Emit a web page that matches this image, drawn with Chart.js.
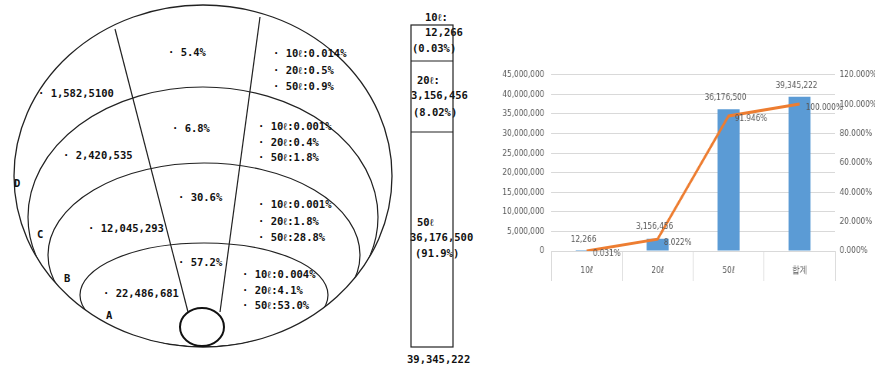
<!DOCTYPE html>
<html>
<head>
<meta charset="utf-8">
<script src="https://cdn.jsdelivr.net/npm/chart.js@4.4.1/dist/chart.umd.min.js"></script>
<style>
  body { margin: 0; background: #fff; }
  #wrap { position: relative; width: 875px; height: 370px; overflow: hidden; }
  #diagram { position: absolute; left: 0; top: 0; }
  /* drawing buffer is wider than the box, so the chart text comes out narrow like the original */
  #bagChart { position: absolute; left: 495px; top: 60px; }
</style>
</head>
<body>
<div id="wrap">
  <svg id="diagram" width="480" height="370"></svg>
  <canvas id="bagChart" width="494" height="225" style="width:380px;height:225px"></canvas>
</div>
<script>
// chart data (bag size -> count, cumulative share)
const categories = ['10ℓ', '20ℓ', '50ℓ', '합계'];
const bagCounts = [12266, 3156456, 36176500, 39345222];
const cumulativeShare = [0.00031, 0.08022, 0.91946, 1.0];

// diagram data, inner ring first
const regions = ['A', 'B', 'C', 'D'];
const regionTotals = ['22,486,681', '12,045,293', '2,420,535', '1,582,5100'];
const regionShares = ['57.2%', '30.6%', '6.8%', '5.4%'];
const share10 = ['0.004%', '0.001%', '0.001%', '0.014%'];
const share20 = ['4.1%', '1.8%', '0.4%', '0.5%'];
const share50 = ['53.0%', '28.8%', '1.8%', '0.9%'];
const boxShares = ['(0.03%)', '(8.02%)', '(91.9%)'];

// ---------- left schematic ----------
const svgNS = 'http://www.w3.org/2000/svg';
const svg = document.getElementById('diagram');

function el(name, attrs, parent) {
  const e = document.createElementNS(svgNS, name);
  for (const k in attrs) e.setAttribute(k, attrs[k]);
  (parent || svg).appendChild(e);
  return e;
}

const outer = { cx: 203, cy: 176, rx: 189, ry: 171 };
const rings = [
  { cx: 204, cy: 295, rx: 124, ry: 52 },
  { cx: 204, cy: 255, rx: 156, ry: 92 },
  { cx: 203, cy: 217, rx: 175, ry: 130 }
];

const defs = el('defs', {});
const clip = el('clipPath', { id: 'outerClip' }, defs);
el('ellipse', outer, clip);

const g = el('g', { 'clip-path': 'url(#outerClip)', fill: 'none', stroke: '#222', 'stroke-width': 1.2 });
rings.forEach(r => el('ellipse', r, g));
el('line', { x1: 115, y1: 29, x2: 188, y2: 312 }, g);
el('line', { x1: 260, y1: 17, x2: 220, y2: 312 }, g);
el('ellipse', Object.assign({ fill: 'none', stroke: '#222', 'stroke-width': 1.3 }, outer));
el('ellipse', { cx: 202, cy: 327, rx: 22, ry: 19, fill: '#fff', stroke: '#111', 'stroke-width': 2 });

const regionLayout = [
  { total: [103, 293], share: [178, 262], bags: [242, 274, 15.5], letter: [106, 315] },
  { total: [88, 228], share: [178, 197], bags: [258, 204, 16.5], letter: [64, 278] },
  { total: [63, 155], share: [172, 128], bags: [258, 126, 15.5], letter: [37, 234] },
  { total: [38, 93], share: [168, 52], bags: [273, 53, 16.5], letter: [14, 183] }
];

const texts = el('g', { 'font-family': 'DejaVu Sans Mono, monospace', 'font-weight': 'bold', 'font-size': '10.5px', fill: '#111' });
function put(s, x, y) {
  const t = document.createElementNS(svgNS, 'text');
  t.setAttribute('x', x); t.setAttribute('y', y + 4);
  t.textContent = s;
  texts.appendChild(t);
}
regions.forEach((r, i) => {
  const L = regionLayout[i];
  put('· ' + regionTotals[i], L.total[0], L.total[1]);
  put('· ' + regionShares[i], L.share[0], L.share[1]);
  put('· ' + categories[0] + ':' + share10[i], L.bags[0], L.bags[1]);
  put('· ' + categories[1] + ':' + share20[i], L.bags[0], L.bags[1] + L.bags[2]);
  put('· ' + categories[2] + ':' + share50[i], L.bags[0], L.bags[1] + 2 * L.bags[2]);
  put(r, L.letter[0], L.letter[1]);
});

// stacked box (schematic, not to scale)
el('rect', { x: 411, y: 25, width: 42, height: 322, fill: 'none', stroke: '#222', 'stroke-width': 1.2 });
el('line', { x1: 411, y1: 61, x2: 453, y2: 61, stroke: '#222', 'stroke-width': 1.2 });
el('line', { x1: 411, y1: 132, x2: 453, y2: 132, stroke: '#222', 'stroke-width': 1.2 });
const boxLayout = [
  [[425, 17], [425, 32], [412, 48]],
  [[417, 80], [411, 95], [413, 112]],
  [[417, 222], [410, 237], [415, 253]]
];
for (let i = 0; i < 3; i++) {
  const B = boxLayout[i];
  put(categories[i] + (i < 2 ? ':' : ''), B[0][0], B[0][1]);
  put(bagCounts[i].toLocaleString('en-US'), B[1][0], B[1][1]);
  put(boxShares[i], B[2][0], B[2][1]);
}
put(bagCounts[3].toLocaleString('en-US'), 407, 359);

// ---------- right chart ----------
const tickFont = { family: "'DejaVu Sans', sans-serif", size: 9.5 };
const labelColor = '#595959';

const valueLabels = {
  id: 'valueLabels',
  afterDatasetsDraw(chart) {
    const c = chart.ctx;
    c.save();
    c.font = "9.5px 'DejaVu Sans', sans-serif";
    c.fillStyle = labelColor;
    chart.getDatasetMeta(1).data.forEach((bar, i) => {
      c.textAlign = 'center';
      c.textBaseline = 'bottom';
      c.fillText(bagCounts[i].toLocaleString('en-US'), bar.x - 4, bar.y - 7);
    });
    chart.getDatasetMeta(0).data.forEach((pt, i) => {
      c.textAlign = 'left';
      c.textBaseline = 'middle';
      c.fillText((cumulativeShare[i] * 100).toFixed(3) + '%', pt.x + 8, pt.y + 3);
    });
    c.restore();
  }
};

const ctx = document.getElementById('bagChart').getContext('2d');
const chart = new Chart(ctx, {
  type: 'bar',
  data: {
    labels: categories,
    datasets: [
      {
        type: 'line',
        data: cumulativeShare,
        yAxisID: 'y2',
        borderColor: '#ed7d31',
        borderWidth: 3,
        pointRadius: 0,
        tension: 0,
        order: 0
      },
      {
        type: 'bar',
        data: bagCounts,
        yAxisID: 'y',
        backgroundColor: '#5b9bd5',
        barPercentage: 0.31,
        categoryPercentage: 1,
        order: 1
      }
    ]
  },
  options: {
    responsive: false,
    animation: false,
    layout: { padding: { top: 13 } },
    plugins: { legend: { display: false }, tooltip: { enabled: false } },
    scales: {
      x: {
        grid: { offset: true, drawOnChartArea: false, tickLength: 30, color: '#d9d9d9' },
        border: { color: '#d9d9d9' },
        ticks: { padding: -16, color: labelColor, font: tickFont },
        afterFit(s) { s.height = 34; }
      },
      y: {
        position: 'left',
        min: 0,
        max: 45000000,
        ticks: { stepSize: 5000000, padding: 9, color: labelColor, font: tickFont,
          callback: v => v.toLocaleString('en-US') },
        grid: { color: '#d9d9d9', drawTicks: false },
        border: { display: false },
        afterFit(s) { s.width = 73; }
      },
      y2: {
        position: 'right',
        min: 0,
        max: 1.2,
        ticks: { stepSize: 0.2, padding: 6, color: labelColor, font: tickFont,
          callback: v => (v * 100).toFixed(3) + '%' },
        grid: { drawOnChartArea: false, drawTicks: false },
        border: { display: false },
        afterFit(s) { s.width = 52; }
      }
    }
  },
  plugins: [valueLabels]
});
</script>
</body>
</html>
